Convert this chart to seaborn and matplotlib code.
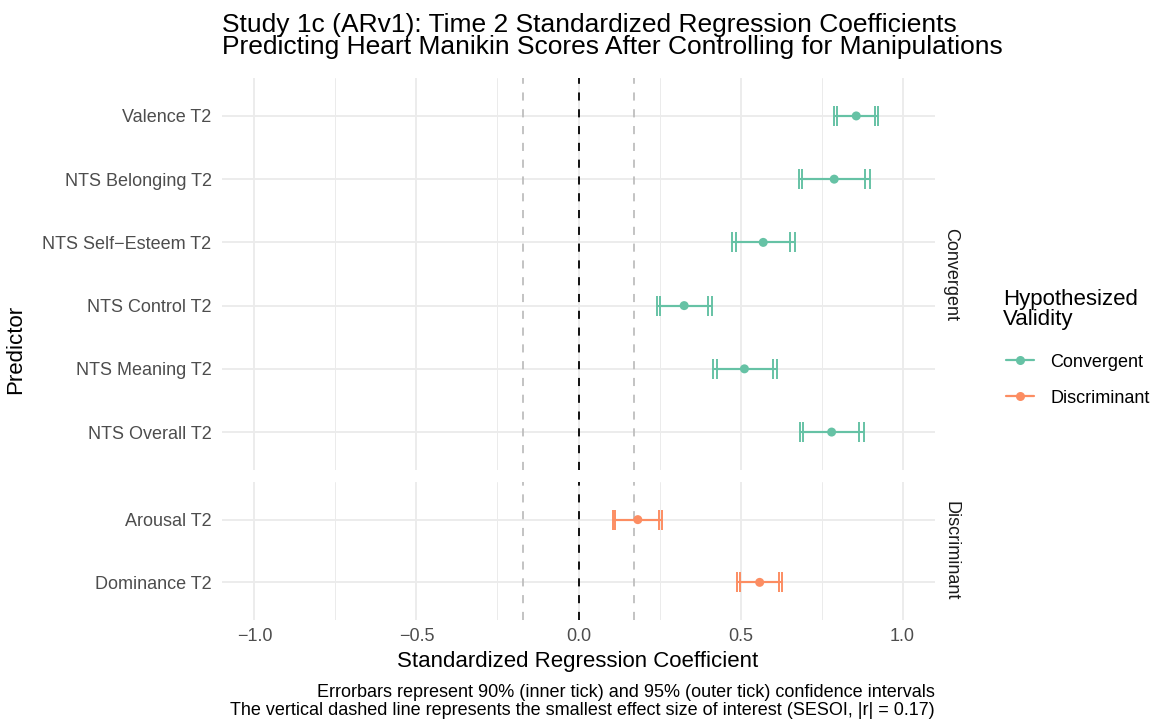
import matplotlib
matplotlib.use("Agg")
import matplotlib.pyplot as plt
from matplotlib.lines import Line2D
import seaborn as sns
import pandas as pd

# ---- data ----
predictors = ["Valence T2", "NTS Belonging T2", "NTS Self\u2212Esteem T2", "NTS Control T2",
              "NTS Meaning T2", "NTS Overall T2", "Arousal T2", "Dominance T2"]
validity = ["Convergent"] * 6 + ["Discriminant"] * 2
estimate = [0.857, 0.789, 0.570, 0.326, 0.512, 0.781, 0.183, 0.559]
ci95_lo = [0.789, 0.679, 0.475, 0.241, 0.415, 0.683, 0.105, 0.489]
ci95_hi = [0.924, 0.899, 0.669, 0.413, 0.614, 0.881, 0.258, 0.629]
ci90_lo = [0.799, 0.691, 0.485, 0.251, 0.426, 0.694, 0.114, 0.497]
ci90_hi = [0.915, 0.883, 0.653, 0.399, 0.599, 0.867, 0.248, 0.620]
facets = ["Convergent", "Discriminant"]
x_ticks = [-1.0, -0.5, 0.0, 0.5, 1.0]
x_tick_labels = ["\u22121.0", "\u22120.5", "0.0", "0.5", "1.0"]
sesoi = 0.17

df = pd.DataFrame(dict(predictor=predictors, validity=validity, est=estimate,
                       lo95=ci95_lo, hi95=ci95_hi, lo90=ci90_lo, hi90=ci90_hi))

sns.set_theme(style="white")
plt.rcParams["font.family"] = ["Liberation Sans", "DejaVu Sans"]

palette = {"Convergent": "#66C2A5", "Discriminant": "#FC8D62"}
grid_c = "#EBEBEB"
FS_TICK = 13.0
FS_AXT = 16.0
FS_TITLE = 19.0

fig = plt.figure(figsize=(11.6, 7.24), dpi=100)
W, H = 1160, 724
def pos(l, t, r, b):
    return [l / W, 1 - b / H, (r - l) / W, (b - t) / H]

axes = [fig.add_axes(pos(222, 78, 935, 470)), fig.add_axes(pos(222, 482, 935, 620))]

for ax, fac in zip(axes, facets):
    sub = df[df.validity == fac].reset_index(drop=True)
    n = len(sub)
    col = palette[fac]
    ax.set_xlim(-1.1, 1.1)
    # grid
    for xv in [-0.75, -0.25, 0.25, 0.75]:
        ax.axvline(xv, color=grid_c, lw=0.7, zorder=0)
    for xv in x_ticks:
        ax.axvline(xv, color=grid_c, lw=1.3, zorder=0)
    for yi in range(n):
        ax.axhline(yi, color=grid_c, lw=1.3, zorder=0)
    # reference lines
    for xv in (-sesoi, sesoi):
        ax.axvline(xv, color="#BEBEBE", lw=1.3, ls=(0, (4.5, 4.8)), zorder=1)
    ax.axvline(0, color="black", lw=1.3, ls=(0, (4.5, 4.8)), zorder=1)
    # error bars
    ys = list(range(n))
    ax.errorbar(sub.est, ys, xerr=[sub.est - sub.lo95, sub.hi95 - sub.est], fmt="none",
                ecolor=col, elinewidth=1.5, capsize=6.9, capthick=1.4, zorder=2)
    ax.errorbar(sub.est, ys, xerr=[sub.est - sub.lo90, sub.hi90 - sub.est], fmt="none",
                ecolor=col, elinewidth=1.5, capsize=6.9, capthick=1.4, zorder=2)
    sns.scatterplot(x=sub.est, y=ys, color=col, s=42, edgecolor="none", ax=ax, zorder=3,
                    legend=False)
    ax.set_ylim(n - 1 + 0.6, -0.6)
    ax.set_yticks(ys)
    ax.set_yticklabels(sub.predictor, color="#4D4D4D", fontsize=FS_TICK)
    ax.set_xticks(x_ticks)
    ax.tick_params(axis="y", length=0, pad=7.5)
    ax.tick_params(axis="x", length=0, pad=5.5)
    for s in ax.spines.values():
        s.set_visible(False)
    ax.set_xlabel("")
    ax.set_ylabel("")
    ax.grid(False)
    # strip label
    ax.text(1.0 + 16 / 713, 0.5, fac, transform=ax.transAxes, rotation=-90,
            ha="center", va="center", fontsize=FS_TICK, color="#1A1A1A")

axes[0].set_xticklabels([])
axes[1].set_xticklabels(x_tick_labels, color="#4D4D4D", fontsize=FS_TICK)

fig.text(222 / W, 1 - 13 / H,
         "Study 1c (ARv1): Time 2 Standardized Regression Coefficients\n"
         "Predicting Heart Manikin Scores After Controlling for Manipulations",
         ha="left", va="top", fontsize=FS_TITLE, color="black", linespacing=0.88)
fig.text(578 / W, 1 - 662 / H, "Standardized Regression Coefficient", ha="center",
         va="center", fontsize=FS_AXT, color="black")
fig.text(16 / W, 1 - 349 / H, "Predictor", ha="center", va="center", rotation=90,
         fontsize=FS_AXT, color="black")
fig.text(935 / W, 1 - 684 / H,
         "Errorbars represent 90% (inner tick) and 95% (outer tick) confidence intervals\n"
         "The vertical dashed line represents the smallest effect size of interest (SESOI, |r| = 0.17)",
         ha="right", va="top", fontsize=FS_TICK, color="black", linespacing=1.1)

# legend (drawn as figure artists)
fig.text(1003 / W, 1 - 289 / H, "Hypothesized\nValidity", ha="left", va="top",
         fontsize=FS_AXT, color="black", linespacing=0.93)
for f, yc in zip(facets, [360, 396]):
    yy = 1 - yc / H
    fig.add_artist(Line2D([1006 / W, 1034 / W], [yy, yy], color=palette[f], lw=1.6,
                          transform=fig.transFigure))
    fig.add_artist(Line2D([1020 / W], [yy], color=palette[f], marker="o", markersize=6.5,
                          markeredgewidth=0, transform=fig.transFigure))
    fig.text(1050 / W, yy, f, ha="left", va="center_baseline", fontsize=FS_TICK,
             color="black")

fig.savefig("out.png", dpi=100)
